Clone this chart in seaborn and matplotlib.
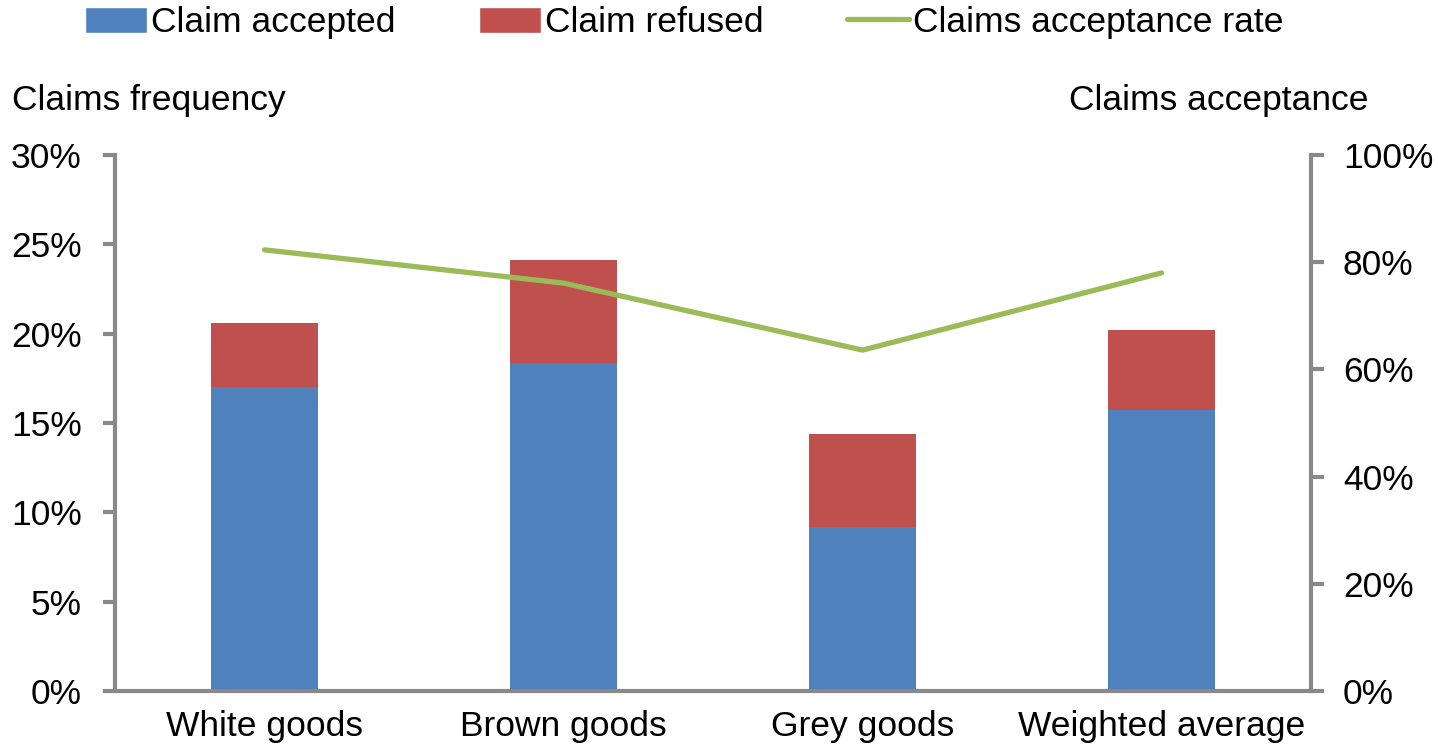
import numpy as np
import pandas as pd
import matplotlib
matplotlib.use('Agg')
import matplotlib.pyplot as plt
from matplotlib.patches import Patch
from matplotlib.lines import Line2D
from matplotlib.ticker import FuncFormatter, FixedLocator
import seaborn as sns

# Data
categories = ['White goods', 'Brown goods', 'Grey goods', 'Weighted average']
claim_accepted = [17.0, 18.35, 9.2, 15.7]      # % of products
claim_refused = [3.6, 5.75, 5.2, 4.5]          # % of products
acceptance_rate = [82.3, 76.1, 63.6, 78.0]     # % of claims

BLUE = '#4F81BD'
RED = '#C0504D'
GREEN = '#9BBB59'
GREY = '#898989'
FS = 25.5

sns.set_style('white')
plt.rcParams['font.family'] = ['Liberation Sans', 'DejaVu Sans']
plt.rcParams['text.color'] = 'black'
plt.rcParams['xtick.labelcolor'] = 'black'
plt.rcParams['ytick.labelcolor'] = 'black'

df = pd.DataFrame({
    'category': categories,
    'accepted': claim_accepted,
    'total': np.array(claim_accepted) + np.array(claim_refused),
    'rate': acceptance_rate,
    'pos': np.arange(len(categories)),
})

fig = plt.figure(figsize=(14.38, 7.52), dpi=100)
ax = fig.add_axes([0.080, 0.0811, 0.8317, 0.7128])

# stacked bars: total (red) behind, accepted (blue) in front
sns.barplot(data=df, x='category', y='total', color=RED, width=0.36,
            saturation=1, edgecolor='none', ax=ax)
sns.barplot(data=df, x='category', y='accepted', color=BLUE, width=0.36,
            saturation=1, edgecolor='none', ax=ax)

ax.set_xlim(-0.5, len(categories) - 0.5)
ax.set_ylim(0, 30)
ax.set_yticks(np.arange(0, 31, 5))
ax.yaxis.set_major_formatter(FuncFormatter(lambda v, p: f'{v:.0f}%'))
ax.set_xlabel('')
ax.set_ylabel('')

# category ticks sit on the boundaries between groups
ax.xaxis.set_minor_locator(FixedLocator(np.arange(-0.5, len(categories), 1.0)))
ax.tick_params(axis='x', which='major', length=0, pad=14, labelsize=FS)
ax.tick_params(axis='x', which='minor', length=9, width=3, color=GREY, direction='out')
ax.tick_params(axis='y', length=9, width=3, color=GREY, direction='out',
               pad=15, labelsize=FS, left=True)

for side in ['top', 'right']:
    ax.spines[side].set_visible(False)
for side in ['left', 'bottom']:
    ax.spines[side].set_color(GREY)
    ax.spines[side].set_linewidth(3)

# acceptance rate on the right axis
ax2 = ax.twinx()
sns.lineplot(data=df, x='pos', y='rate', color=GREEN, linewidth=3.8,
             sort=False, solid_capstyle='round', ax=ax2)
ax2.set_ylim(0, 100)
ax2.set_yticks(np.arange(0, 101, 20))
ax2.yaxis.set_major_formatter(FuncFormatter(lambda v, p: f'{v:.0f}%'))
ax2.set_ylabel('')
ax2.set_xlabel('')
ax2.tick_params(axis='y', length=9, width=3, color=GREY, direction='out',
                pad=14, labelsize=FS, right=True)
for side in ['top', 'left', 'bottom']:
    ax2.spines[side].set_visible(False)
ax2.spines['right'].set_color(GREY)
ax2.spines['right'].set_linewidth(3)
ax2.set_xlim(-0.5, len(categories) - 0.5)

fig.text(0.008, 0.867, 'Claims frequency', fontsize=FS, ha='left', va='center')
fig.text(0.952, 0.867, 'Claims acceptance', fontsize=FS, ha='right', va='center')

handles = [Patch(facecolor=BLUE), Patch(facecolor=RED),
           Line2D([0], [0], color=GREEN, linewidth=3.8)]
labels = ['Claim accepted', 'Claim refused', 'Claims acceptance rate']
fig.legend(handles, labels, loc='center', bbox_to_anchor=(0.4757, 0.970), ncol=3,
           frameon=False, fontsize=FS, handlelength=1.75, handleheight=0.75,
           handletextpad=0.12, columnspacing=2.35, borderpad=0)

fig.savefig('out.png', dpi=100)
